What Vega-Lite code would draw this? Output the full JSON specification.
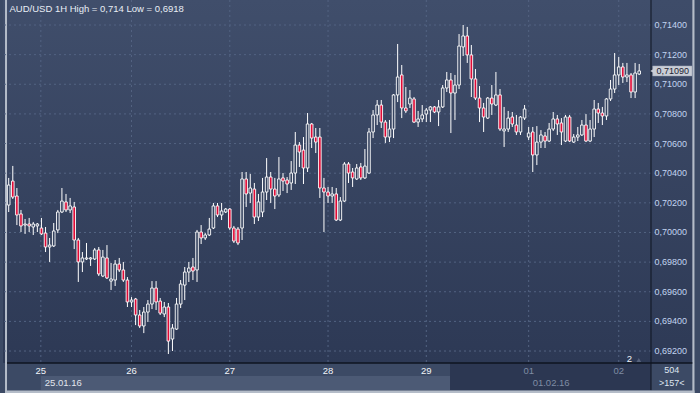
{
  "$schema": "https://vega.github.io/schema/vega-lite/v6.json",
  "width": 653,
  "height": 363,
  "autosize": {"type": "none"},
  "padding": {"left": 3, "top": 0, "right": 44, "bottom": 30},
  "background": "#3c4a65",
  "config": {
    "view": {"stroke": null, "fill": {"gradient": "linear", "x1": 0, "y1": 0, "x2": 0, "y2": 1, "stops": [{"offset": 0, "color": "#404e6b"}, {"offset": 1, "color": "#2d3955"}]}},
    "font": "Liberation Sans",
    "axis": {"disable": true}
  },
  "datasets": {
    "levels": [{"p": 0.692}, {"p": 0.694}, {"p": 0.696}, {"p": 0.698}, {"p": 0.700}, {"p": 0.702}, {"p": 0.704}, {"p": 0.706}, {"p": 0.708}, {"p": 0.710}, {"p": 0.712}, {"p": 0.714}],
    "days": [{"i": 7.85, "d": "25"}, {"i": 30, "d": "26"}, {"i": 54, "d": "27"}, {"i": 78, "d": "28"}, {"i": 102, "d": "29"}, {"i": 127, "d": "01"}, {"i": 149, "d": "02"}],
    "dates": [{"i": 7.85, "label": "25.01.16"}, {"i": 127, "label": "01.02.16"}],
    "candles": [
      {"i":0,"o":0.70185,"h":0.70368,"l":0.70138,"c":0.70320},
      {"i":1,"o":0.70347,"h":0.70449,"l":0.70226,"c":0.70239},
      {"i":2,"o":0.70246,"h":0.70300,"l":0.70050,"c":0.70118},
      {"i":3,"o":0.70125,"h":0.70152,"l":0.70003,"c":0.70044},
      {"i":4,"o":0.70050,"h":0.70091,"l":0.69990,"c":0.70057},
      {"i":5,"o":0.70057,"h":0.70098,"l":0.70003,"c":0.70044},
      {"i":6,"o":0.70037,"h":0.70071,"l":0.69983,"c":0.70057},
      {"i":7,"o":0.70044,"h":0.70064,"l":0.70003,"c":0.70057},
      {"i":8,"o":0.70030,"h":0.70098,"l":0.69983,"c":0.69990},
      {"i":9,"o":0.69996,"h":0.70037,"l":0.69868,"c":0.69902},
      {"i":10,"o":0.69902,"h":0.69963,"l":0.69801,"c":0.69915},
      {"i":11,"o":0.69909,"h":0.70064,"l":0.69902,"c":0.70010},
      {"i":12,"o":0.70017,"h":0.70152,"l":0.69996,"c":0.70138},
      {"i":13,"o":0.70138,"h":0.70300,"l":0.70131,"c":0.70212},
      {"i":14,"o":0.70206,"h":0.70260,"l":0.70138,"c":0.70152},
      {"i":15,"o":0.70152,"h":0.70233,"l":0.70131,"c":0.70179},
      {"i":16,"o":0.70172,"h":0.70206,"l":0.69888,"c":0.69949},
      {"i":17,"o":0.69949,"h":0.69963,"l":0.69666,"c":0.69801},
      {"i":18,"o":0.69801,"h":0.69868,"l":0.69733,"c":0.69828},
      {"i":19,"o":0.69821,"h":0.69929,"l":0.69814,"c":0.69828},
      {"i":20,"o":0.69821,"h":0.69834,"l":0.69774,"c":0.69828},
      {"i":21,"o":0.69821,"h":0.69895,"l":0.69814,"c":0.69882},
      {"i":22,"o":0.69882,"h":0.69902,"l":0.69706,"c":0.69720},
      {"i":23,"o":0.69706,"h":0.69882,"l":0.69699,"c":0.69834},
      {"i":24,"o":0.69828,"h":0.69915,"l":0.69686,"c":0.69693},
      {"i":25,"o":0.69672,"h":0.69794,"l":0.69612,"c":0.69686},
      {"i":26,"o":0.69679,"h":0.69814,"l":0.69639,"c":0.69787},
      {"i":27,"o":0.69787,"h":0.69828,"l":0.69733,"c":0.69747},
      {"i":28,"o":0.69747,"h":0.69801,"l":0.69666,"c":0.69679},
      {"i":29,"o":0.69679,"h":0.69699,"l":0.69497,"c":0.69531},
      {"i":30,"o":0.69531,"h":0.69564,"l":0.69497,"c":0.69544},
      {"i":31,"o":0.69551,"h":0.69558,"l":0.69375,"c":0.69443},
      {"i":32,"o":0.69443,"h":0.69477,"l":0.69355,"c":0.69369},
      {"i":33,"o":0.69369,"h":0.69497,"l":0.69321,"c":0.69463},
      {"i":34,"o":0.69463,"h":0.69544,"l":0.69396,"c":0.69517},
      {"i":35,"o":0.69517,"h":0.69672,"l":0.69483,"c":0.69625},
      {"i":36,"o":0.69625,"h":0.69672,"l":0.69477,"c":0.69531},
      {"i":37,"o":0.69537,"h":0.69558,"l":0.69443,"c":0.69456},
      {"i":38,"o":0.69450,"h":0.69531,"l":0.69429,"c":0.69497},
      {"i":39,"o":0.69497,"h":0.69524,"l":0.69180,"c":0.69267},
      {"i":40,"o":0.69281,"h":0.69382,"l":0.69200,"c":0.69355},
      {"i":41,"o":0.69348,"h":0.69558,"l":0.69342,"c":0.69517},
      {"i":42,"o":0.69517,"h":0.69679,"l":0.69490,"c":0.69652},
      {"i":43,"o":0.69645,"h":0.69767,"l":0.69544,"c":0.69733},
      {"i":44,"o":0.69733,"h":0.69801,"l":0.69666,"c":0.69760},
      {"i":45,"o":0.69767,"h":0.69828,"l":0.69679,"c":0.69740},
      {"i":46,"o":0.69747,"h":0.70017,"l":0.69666,"c":0.70003},
      {"i":47,"o":0.70003,"h":0.70050,"l":0.69922,"c":0.69963},
      {"i":48,"o":0.69963,"h":0.69996,"l":0.69949,"c":0.69983},
      {"i":49,"o":0.69983,"h":0.70098,"l":0.69976,"c":0.70023},
      {"i":50,"o":0.70030,"h":0.70199,"l":0.70023,"c":0.70179},
      {"i":51,"o":0.70179,"h":0.70199,"l":0.70104,"c":0.70118},
      {"i":52,"o":0.70118,"h":0.70199,"l":0.70084,"c":0.70145},
      {"i":53,"o":0.70138,"h":0.70165,"l":0.70131,"c":0.70158},
      {"i":54,"o":0.70158,"h":0.70165,"l":0.70017,"c":0.70030},
      {"i":55,"o":0.70030,"h":0.70044,"l":0.69929,"c":0.69942},
      {"i":56,"o":0.70023,"h":0.70037,"l":0.69915,"c":0.69929},
      {"i":57,"o":0.70030,"h":0.70408,"l":0.69949,"c":0.70361},
      {"i":58,"o":0.70361,"h":0.70408,"l":0.70172,"c":0.70260},
      {"i":59,"o":0.70266,"h":0.70395,"l":0.70199,"c":0.70300},
      {"i":60,"o":0.70293,"h":0.70334,"l":0.70057,"c":0.70104},
      {"i":61,"o":0.70104,"h":0.70260,"l":0.70077,"c":0.70206},
      {"i":62,"o":0.70138,"h":0.70368,"l":0.70104,"c":0.70273},
      {"i":63,"o":0.70273,"h":0.70502,"l":0.70219,"c":0.70374},
      {"i":64,"o":0.70374,"h":0.70408,"l":0.70199,"c":0.70293},
      {"i":65,"o":0.70293,"h":0.70368,"l":0.70158,"c":0.70246},
      {"i":66,"o":0.70253,"h":0.70509,"l":0.70239,"c":0.70361},
      {"i":67,"o":0.70368,"h":0.70401,"l":0.70280,"c":0.70347},
      {"i":68,"o":0.70354,"h":0.70374,"l":0.70266,"c":0.70327},
      {"i":69,"o":0.70334,"h":0.70482,"l":0.70287,"c":0.70401},
      {"i":70,"o":0.70401,"h":0.70678,"l":0.70327,"c":0.70590},
      {"i":71,"o":0.70590,"h":0.70610,"l":0.70442,"c":0.70543},
      {"i":72,"o":0.70556,"h":0.70644,"l":0.70327,"c":0.70435},
      {"i":73,"o":0.70435,"h":0.70806,"l":0.70408,"c":0.70732},
      {"i":74,"o":0.70732,"h":0.70739,"l":0.70570,"c":0.70637},
      {"i":75,"o":0.70644,"h":0.70705,"l":0.70536,"c":0.70610},
      {"i":76,"o":0.70644,"h":0.70705,"l":0.70233,"c":0.70300},
      {"i":77,"o":0.70300,"h":0.70368,"l":0.70003,"c":0.70273},
      {"i":78,"o":0.70273,"h":0.70307,"l":0.70199,"c":0.70246},
      {"i":79,"o":0.70246,"h":0.70307,"l":0.70199,"c":0.70260},
      {"i":80,"o":0.70260,"h":0.70300,"l":0.70077,"c":0.70084},
      {"i":81,"o":0.70084,"h":0.70239,"l":0.70077,"c":0.70212},
      {"i":82,"o":0.70212,"h":0.70475,"l":0.70206,"c":0.70462},
      {"i":83,"o":0.70462,"h":0.70475,"l":0.70334,"c":0.70401},
      {"i":84,"o":0.70408,"h":0.70435,"l":0.70307,"c":0.70368},
      {"i":85,"o":0.70361,"h":0.70462,"l":0.70354,"c":0.70435},
      {"i":86,"o":0.70442,"h":0.70469,"l":0.70354,"c":0.70368},
      {"i":87,"o":0.70368,"h":0.70563,"l":0.70361,"c":0.70448},
      {"i":88,"o":0.70401,"h":0.70705,"l":0.70395,"c":0.70678},
      {"i":89,"o":0.70678,"h":0.70826,"l":0.70637,"c":0.70793},
      {"i":90,"o":0.70793,"h":0.70894,"l":0.70725,"c":0.70860},
      {"i":91,"o":0.70860,"h":0.70894,"l":0.70705,"c":0.70745},
      {"i":92,"o":0.70745,"h":0.70759,"l":0.70604,"c":0.70644},
      {"i":93,"o":0.70644,"h":0.70759,"l":0.70610,"c":0.70698},
      {"i":94,"o":0.70698,"h":0.70934,"l":0.70637,"c":0.70928},
      {"i":95,"o":0.70928,"h":0.71272,"l":0.70880,"c":0.71049},
      {"i":96,"o":0.71063,"h":0.71130,"l":0.70772,"c":0.70840},
      {"i":97,"o":0.70840,"h":0.70982,"l":0.70806,"c":0.70820},
      {"i":98,"o":0.70867,"h":0.70961,"l":0.70840,"c":0.70907},
      {"i":99,"o":0.70901,"h":0.70914,"l":0.70739,"c":0.70745},
      {"i":100,"o":0.70745,"h":0.70820,"l":0.70712,"c":0.70766},
      {"i":101,"o":0.70766,"h":0.70860,"l":0.70745,"c":0.70793},
      {"i":102,"o":0.70799,"h":0.70840,"l":0.70745,"c":0.70826},
      {"i":103,"o":0.70826,"h":0.70853,"l":0.70745,"c":0.70847},
      {"i":104,"o":0.70847,"h":0.70853,"l":0.70806,"c":0.70813},
      {"i":105,"o":0.70813,"h":0.70894,"l":0.70718,"c":0.70847},
      {"i":106,"o":0.70847,"h":0.70995,"l":0.70840,"c":0.70975},
      {"i":107,"o":0.70975,"h":0.71083,"l":0.70948,"c":0.71029},
      {"i":108,"o":0.71029,"h":0.71076,"l":0.70671,"c":0.70941},
      {"i":109,"o":0.70941,"h":0.71063,"l":0.70759,"c":0.70995},
      {"i":110,"o":0.70995,"h":0.71339,"l":0.70968,"c":0.71258},
      {"i":111,"o":0.71252,"h":0.71400,"l":0.71191,"c":0.71326},
      {"i":112,"o":0.71326,"h":0.71387,"l":0.71144,"c":0.71198},
      {"i":113,"o":0.71198,"h":0.71265,"l":0.70914,"c":0.71036},
      {"i":114,"o":0.71036,"h":0.71103,"l":0.70894,"c":0.70907},
      {"i":115,"o":0.70907,"h":0.70988,"l":0.70745,"c":0.70840},
      {"i":116,"o":0.70840,"h":0.70874,"l":0.70678,"c":0.70779},
      {"i":117,"o":0.70772,"h":0.70914,"l":0.70766,"c":0.70907},
      {"i":118,"o":0.70907,"h":0.70995,"l":0.70793,"c":0.70867},
      {"i":119,"o":0.70860,"h":0.71083,"l":0.70853,"c":0.70928},
      {"i":120,"o":0.70928,"h":0.70968,"l":0.70685,"c":0.70698},
      {"i":121,"o":0.70685,"h":0.70847,"l":0.70577,"c":0.70698},
      {"i":122,"o":0.70698,"h":0.70820,"l":0.70678,"c":0.70772},
      {"i":123,"o":0.70779,"h":0.70813,"l":0.70712,"c":0.70732},
      {"i":124,"o":0.70725,"h":0.70793,"l":0.70658,"c":0.70678},
      {"i":125,"o":0.70678,"h":0.70786,"l":0.70658,"c":0.70779},
      {"i":126,"o":0.70772,"h":0.70860,"l":0.70759,"c":0.70833},
      {"i":127,"o":0.70644,"h":0.70712,"l":0.70624,"c":0.70671},
      {"i":128,"o":0.70678,"h":0.70712,"l":0.70408,"c":0.70523},
      {"i":129,"o":0.70523,"h":0.70718,"l":0.70455,"c":0.70610},
      {"i":130,"o":0.70610,"h":0.70691,"l":0.70570,"c":0.70658},
      {"i":131,"o":0.70651,"h":0.70678,"l":0.70570,"c":0.70617},
      {"i":132,"o":0.70617,"h":0.70739,"l":0.70610,"c":0.70698},
      {"i":133,"o":0.70698,"h":0.70813,"l":0.70685,"c":0.70766},
      {"i":134,"o":0.70766,"h":0.70793,"l":0.70658,"c":0.70732},
      {"i":135,"o":0.70739,"h":0.70772,"l":0.70590,"c":0.70678},
      {"i":136,"o":0.70617,"h":0.70793,"l":0.70610,"c":0.70779},
      {"i":137,"o":0.70779,"h":0.70793,"l":0.70610,"c":0.70617},
      {"i":138,"o":0.70610,"h":0.70664,"l":0.70604,"c":0.70644},
      {"i":139,"o":0.70644,"h":0.70712,"l":0.70617,"c":0.70658},
      {"i":140,"o":0.70658,"h":0.70759,"l":0.70651,"c":0.70725},
      {"i":141,"o":0.70725,"h":0.70799,"l":0.70610,"c":0.70617},
      {"i":142,"o":0.70617,"h":0.70759,"l":0.70610,"c":0.70698},
      {"i":143,"o":0.70698,"h":0.70894,"l":0.70644,"c":0.70833},
      {"i":144,"o":0.70833,"h":0.70874,"l":0.70739,"c":0.70806},
      {"i":145,"o":0.70806,"h":0.70847,"l":0.70725,"c":0.70786},
      {"i":146,"o":0.70786,"h":0.70907,"l":0.70759,"c":0.70901},
      {"i":147,"o":0.70901,"h":0.71029,"l":0.70887,"c":0.70968},
      {"i":148,"o":0.70968,"h":0.71211,"l":0.70941,"c":0.71063},
      {"i":149,"o":0.71063,"h":0.71184,"l":0.70995,"c":0.71117},
      {"i":150,"o":0.71117,"h":0.71144,"l":0.71009,"c":0.71049},
      {"i":151,"o":0.71049,"h":0.71144,"l":0.71015,"c":0.71063},
      {"i":152,"o":0.71063,"h":0.71076,"l":0.70907,"c":0.70948},
      {"i":153,"o":0.70948,"h":0.71144,"l":0.70907,"c":0.71076},
      {"i":154,"o":0.71069,"h":0.71137,"l":0.71063,"c":0.71090}
    ]
  },
  "layer": [
    {
      "data": {"values": [{}]},
      "mark": {"type": "rect", "fill": {"gradient": "linear", "x1": 0, "y1": 0, "x2": 0, "y2": 1, "stops": [{"offset": 0, "color": "#3e4c69"}, {"offset": 1, "color": "#2e3a56"}]}},
      "encoding": {
        "x": {"datum": 156.93, "type": "quantitative"},
        "x2": {"datum": 167.5},
        "y": {"datum": 0.715687, "type": "quantitative"},
        "y2": {"datum": 0.691192}
      }
    },
    {
      "data": {"values": [{}]},
      "mark": {"type": "rect", "fill": "#4c5a75"},
      "encoding": {
        "x": {"datum": 7.85, "type": "quantitative"},
        "x2": {"datum": 107.8},
        "y": {"datum": 0.69031, "type": "quantitative"},
        "y2": {"datum": 0.689365}
      }
    },
    {
      "data": {"values": [{}]},
      "mark": {"type": "rect", "fill": "#2c3752"},
      "encoding": {
        "x": {"datum": 107.8, "type": "quantitative"},
        "x2": {"datum": 156.88},
        "y": {"datum": 0.69119, "type": "quantitative"},
        "y2": {"datum": 0.689365}
      }
    },
    {
      "data": {"values": [{}]},
      "mark": {"type": "rect", "fill": "#b4bcc8"},
      "encoding": {
        "x": {"datum": -0.9, "type": "quantitative"},
        "x2": {"datum": -0.41},
        "y": {"datum": 0.7158, "type": "quantitative"},
        "y2": {"datum": 0.68916}
      }
    },
    {
      "data": {"values": [{}]},
      "mark": {"type": "rect", "fill": "#b4bcc8"},
      "encoding": {
        "x": {"datum": -0.9, "type": "quantitative"},
        "x2": {"datum": 167.5},
        "y": {"datum": 0.68933, "type": "quantitative"},
        "y2": {"datum": 0.68916}
      }
    },
    {
      "data": {"values": [{}]},
      "mark": {"type": "rect", "fill": "#b4bcc8"},
      "encoding": {
        "x": {"datum": 166.98, "type": "quantitative"},
        "x2": {"datum": 167.5},
        "y": {"datum": 0.7158, "type": "quantitative"},
        "y2": {"datum": 0.68916}
      }
    },
    {
      "data": {"name": "levels"},
      "mark": {"type": "rule", "stroke": "#536382", "strokeWidth": 1, "strokeDash": [2, 3]},
      "encoding": {"y": {"field": "p", "type": "quantitative"}}
    },
    {
      "data": {"name": "days"},
      "mark": {"type": "rule", "stroke": "#536382", "strokeWidth": 1, "strokeDash": [2, 3]},
      "encoding": {"x": {"field": "i", "type": "quantitative"}}
    },
    {
      "data": {"name": "candles"},
      "mark": {"type": "rule", "stroke": "#ffffff", "strokeWidth": 1},
      "encoding": {
        "x": {"field": "i", "type": "quantitative"},
        "y": {"field": "l", "type": "quantitative"},
        "y2": {"field": "h"}
      }
    },
    {
      "data": {"name": "candles"},
      "mark": {"type": "bar", "size": 2.6, "stroke": "#ffffff", "strokeWidth": 0.9},
      "encoding": {
        "x": {"field": "i", "type": "quantitative", "scale": {"domain": [-0.17, 156.88], "nice": false, "zero": false}},
        "y": {"field": "o", "type": "quantitative", "scale": {"domain": [0.691192, 0.715687], "nice": false, "zero": false}},
        "y2": {"field": "c"},
        "fill": {"condition": {"test": "datum.c < datum.o", "value": "#e00a36"}, "value": "#35435f"}
      }
    },
    {
      "data": {"values": [{}]},
      "mark": {"type": "rule", "stroke": "#0e1420", "strokeWidth": 1},
      "encoding": {"x": {"datum": 156.88, "type": "quantitative"}, "y": {"datum": 0.715687, "type": "quantitative"}, "y2": {"datum": 0.689365}}
    },
    {
      "data": {"values": [{}]},
      "mark": {"type": "rule", "stroke": "#0e1420", "strokeWidth": 1.5},
      "encoding": {"y": {"datum": 0.691192, "type": "quantitative"}, "x": {"datum": -0.41, "type": "quantitative"}, "x2": {"datum": 166.98}}
    },
    {
      "data": {"name": "levels"},
      "mark": {"type": "text", "font": "Liberation Sans", "fontSize": 9, "align": "left", "baseline": "middle", "dx": 3.5, "color": "#c2d4f0", "text": {"expr": "replace(format(datum.p, '.5f'), '.', ',')"}},
      "encoding": {
        "x": {"datum": 156.88, "type": "quantitative"},
        "y": {"field": "p", "type": "quantitative"}
      }
    },
    {
      "data": {"values": [{}]},
      "mark": {"type": "text", "font": "Liberation Sans", "fontSize": 9.5, "align": "left", "baseline": "top", "dx": 1.5, "dy": 3.5, "color": "#e8edf5"},
      "encoding": {
        "x": {"datum": -0.17, "type": "quantitative"},
        "y": {"datum": 0.715687, "type": "quantitative"},
        "text": {"value": "AUD/USD 1H High = 0,714 Low = 0,6918"}
      }
    },
    {
      "data": {"name": "days"},
      "mark": {"type": "text", "font": "Liberation Sans", "fontSize": 9.5, "align": "center", "baseline": "middle"},
      "encoding": {
        "x": {"field": "i", "type": "quantitative"},
        "y": {"datum": 0.69065, "type": "quantitative"},
        "text": {"field": "d"},
        "color": {"condition": {"test": "datum.i > 110", "value": "#7f8ca4"}, "value": "#f2f4f8"}
      }
    },
    {
      "data": {"name": "dates"},
      "mark": {"type": "text", "font": "Liberation Sans", "fontSize": 9.5, "align": "left", "baseline": "middle", "dx": 4},
      "encoding": {
        "x": {"field": "i", "type": "quantitative"},
        "y": {"datum": 0.68984, "type": "quantitative"},
        "text": {"field": "label"},
        "color": {"condition": {"test": "datum.i > 110", "value": "#7f8ca4"}, "value": "#e2e6ee"}
      }
    },
    {
      "data": {"name": "candles"},
      "transform": [{"filter": "datum.i == 154"}],
      "mark": {"type": "rect", "fill": "#c9cdd5", "stroke": "#9aa3b2", "strokeWidth": 0.5, "yOffset": -5, "y2Offset": 5},
      "encoding": {
        "x": {"datum": 157.3, "type": "quantitative"},
        "x2": {"datum": 166.9},
        "y": {"field": "c", "type": "quantitative"},
        "y2": {"field": "c"}
      }
    },
    {
      "data": {"name": "candles"},
      "transform": [{"filter": "datum.i == 154"}],
      "mark": {"type": "point", "shape": "triangle-left", "filled": true, "size": 40, "color": "#c9cdd5", "opacity": 1, "xOffset": 2},
      "encoding": {
        "x": {"datum": 156.88, "type": "quantitative"},
        "y": {"field": "c", "type": "quantitative"}
      }
    },
    {
      "data": {"name": "candles"},
      "transform": [{"filter": "datum.i == 154"}],
      "mark": {"type": "text", "font": "Liberation Sans", "fontSize": 9, "align": "left", "baseline": "middle", "dx": 5.5, "color": "#1c2434", "text": {"expr": "replace(format(datum.c, '.5f'), '.', ',')"}},
      "encoding": {
        "x": {"datum": 156.88, "type": "quantitative"},
        "y": {"field": "c", "type": "quantitative"}
      }
    },
    {
      "data": {"values": [{}]},
      "mark": {"type": "text", "font": "Liberation Sans", "fontSize": 9.5, "align": "center", "baseline": "middle", "color": "#f2f4f8"},
      "encoding": {
        "x": {"datum": 151.6, "type": "quantitative"},
        "y": {"datum": 0.69149, "type": "quantitative"},
        "text": {"value": "2"}
      }
    },
    {
      "data": {"values": [{}]},
      "mark": {"type": "point", "shape": "triangle-up", "filled": true, "size": 22, "color": "#56627c", "opacity": 1},
      "encoding": {
        "x": {"datum": 153.9, "type": "quantitative"},
        "y": {"datum": 0.69139, "type": "quantitative"}
      }
    },
    {
      "data": {"values": [{}]},
      "mark": {"type": "text", "font": "Liberation Sans", "fontSize": 9, "align": "center", "baseline": "middle", "color": "#dfe6f0"},
      "encoding": {
        "x": {"datum": 161.93, "type": "quantitative"},
        "y": {"datum": 0.690715, "type": "quantitative"},
        "text": {"value": "504"}
      }
    },
    {
      "data": {"values": [{}]},
      "mark": {"type": "text", "font": "Liberation Sans", "fontSize": 9, "align": "center", "baseline": "middle", "color": "#dfe6f0"},
      "encoding": {
        "x": {"datum": 161.93, "type": "quantitative"},
        "y": {"datum": 0.68984, "type": "quantitative"},
        "text": {"value": ">157<"}
      }
    }
  ]
}
